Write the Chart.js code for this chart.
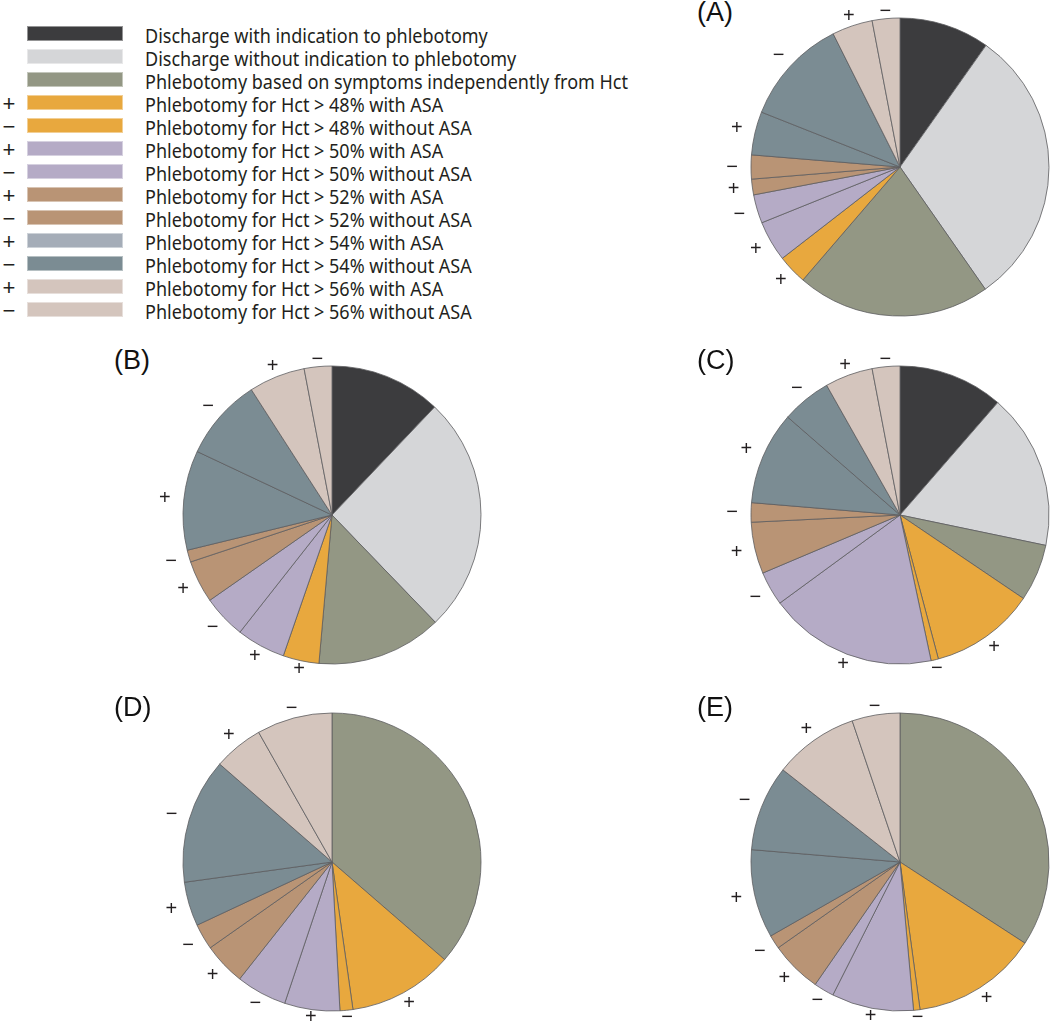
<!DOCTYPE html>
<html>
<head>
<meta charset="utf-8">
<script src="https://cdn.jsdelivr.net/npm/chart.js@4.4.0/dist/chart.umd.min.js"></script>
<style>
  body { margin: 0; width: 1050px; height: 1027px; overflow: hidden; background: #fff; position: relative; color: #231f20; }
  .row { position: absolute; left: 0; width: 700px; height: 23px; }
  .row .sign { position: absolute; left: 0; width: 18px; top: 0; height: 23px; line-height: 23px; text-align: center; font: 22px "Liberation Sans", sans-serif; }
  .row .swatch { position: absolute; left: 27px; top: 4px; width: 96px; height: 15px; box-sizing: border-box; border: 1px solid rgba(255,255,255,0.45); }
  .row .label { position: absolute; left: 145px; top: 0; height: 23px; line-height: 23px; font: 19.5px "Noto Sans", sans-serif; white-space: nowrap; transform-origin: left center; }
  .title { position: absolute; font: 27px/27px "Liberation Sans", Arial, sans-serif; color: #111; }
  canvas.pie { position: absolute; }
</style>
</head>
<body>
<div id="legend"></div>

<script>
// categories in legend / slice order (clockwise from 12 o'clock)
const categories = [
  "Discharge with indication to phlebotomy",
  "Discharge without indication to phlebotomy",
  "Phlebotomy based on symptoms independently from Hct",
  "Phlebotomy for Hct > 48% with ASA",
  "Phlebotomy for Hct > 48% without ASA",
  "Phlebotomy for Hct > 50% with ASA",
  "Phlebotomy for Hct > 50% without ASA",
  "Phlebotomy for Hct > 52% with ASA",
  "Phlebotomy for Hct > 52% without ASA",
  "Phlebotomy for Hct > 54% with ASA",
  "Phlebotomy for Hct > 54% without ASA",
  "Phlebotomy for Hct > 56% with ASA",
  "Phlebotomy for Hct > 56% without ASA"
];
const signs = ["", "", "", "+", "\u2212", "+", "\u2212", "+", "\u2212", "+", "\u2212", "+", "\u2212"];

const legendColors = ["#3c3c3e", "#d5d6d8", "#939784", "#e8a83e", "#e8a83e", "#b5abc6", "#b5abc6",
  "#b99475", "#b99475", "#a5adb8", "#7b8c93", "#d4c5bd", "#d4c5bd"];
const pieColors = ["#3c3c3e", "#d5d6d8", "#939784", "#e8a83e", "#e8a83e", "#b5abc6", "#b5abc6",
  "#b99475", "#b99475", "#7b8c93", "#7b8c93", "#d4c5bd", "#d4c5bd"];

// percentages per panel, same order as categories
const panelA = [9.8, 30.5, 21.0, 3.2, 0, 4.4, 3.1, 1.7, 2.6, 4.7, 11.6, 4.4, 3.0];
const panelB = [12.1, 25.7, 13.6, 3.9, 0, 5.3, 4.7, 4.6, 1.3, 10.8, 8.9, 6.1, 3.0];
const panelC = [11.4, 16.9, 6.2, 11.4, 0.8, 18.3, 3.7, 5.6, 2.1, 10.1, 5.4, 5.2, 3.0];
const panelD = [0, 0, 36.4, 11.4, 1.4, 6.0, 5.5, 4.6, 2.8, 4.8, 13.6, 5.4, 8.2];
const panelE = [0, 0, 34.2, 13.7, 0.7, 8.9, 2.2, 5.6, 1.5, 9.6, 9.3, 9.2, 5.2];

const panelTitles = ["(A)", "(B)", "(C)", "(D)", "(E)"];
const panelData = [panelA, panelB, panelC, panelD, panelE];

// layout
const centers = [[900, 167], [332, 515], [900, 515], [332, 862], [900, 862]];
const titlePos = [[697, -1], [114, 347], [697, 347], [114, 694], [697, 694]];
const pieRadius = 149;
const canvasSize = 380;

// legend
const legend = document.getElementById("legend");
categories.forEach((name, i) => {
  const row = document.createElement("div");
  row.className = "row";
  row.style.top = (21.8 + 23 * i) + "px";
  row.innerHTML = `<span class="sign">${signs[i]}</span><span class="swatch" style="background:${legendColors[i]}"></span><span class="label"></span>`;
  row.querySelector(".label").textContent = name;
  legend.appendChild(row);
});
const labels = [...document.querySelectorAll(".row .label")];
const widest = Math.max(...labels.map(l => l.getBoundingClientRect().width));
labels.forEach(l => { l.style.transform = `scaleX(${483 / widest})`; });

const signLabels = {
  id: "signLabels",
  afterDatasetsDraw(chart) {
    const ctx = chart.ctx;
    const values = chart.data.datasets[0].data;
    ctx.save();
    ctx.font = '20px "Liberation Sans", sans-serif';
    ctx.fillStyle = "#231f20";
    ctx.textAlign = "center";
    ctx.textBaseline = "middle";
    chart.getDatasetMeta(0).data.forEach((arc, i) => {
      if (!signs[i] || !values[i]) return;
      const p = arc.getProps(["x", "y", "startAngle", "endAngle", "outerRadius"], true);
      const mid = (p.startAngle + p.endAngle) / 2;
      const r = p.outerRadius + 6 + 13 * Math.abs(Math.cos(mid));
      ctx.fillText(signs[i], p.x + Math.cos(mid) * r, p.y + Math.sin(mid) * r);
    });
    ctx.restore();
  }
};

panelData.forEach((data, k) => {
  const t = document.createElement("div");
  t.className = "title";
  t.textContent = panelTitles[k];
  t.style.left = titlePos[k][0] + "px";
  t.style.top = titlePos[k][1] + "px";
  document.body.appendChild(t);

  const canvas = document.createElement("canvas");
  canvas.className = "pie";
  canvas.width = canvasSize;
  canvas.height = canvasSize;
  canvas.style.left = (centers[k][0] - canvasSize / 2) + "px";
  canvas.style.top = (centers[k][1] - canvasSize / 2) + "px";
  document.body.appendChild(canvas);

  new Chart(canvas.getContext("2d"), {
    type: "pie",
    data: {
      labels: categories,
      datasets: [
        {
          data: data,
          backgroundColor: pieColors,
          borderColor: "#5d5d5f",
          borderWidth: 0.8,
          radius: pieRadius,
        },
      ],
    },
    options: {
      responsive: false,
      animation: false,
      events: [],
      plugins: {
        legend: { display: false },
        tooltip: { enabled: false },
      },
    },
    plugins: [signLabels],
  });
});
</script>
</body>
</html>
